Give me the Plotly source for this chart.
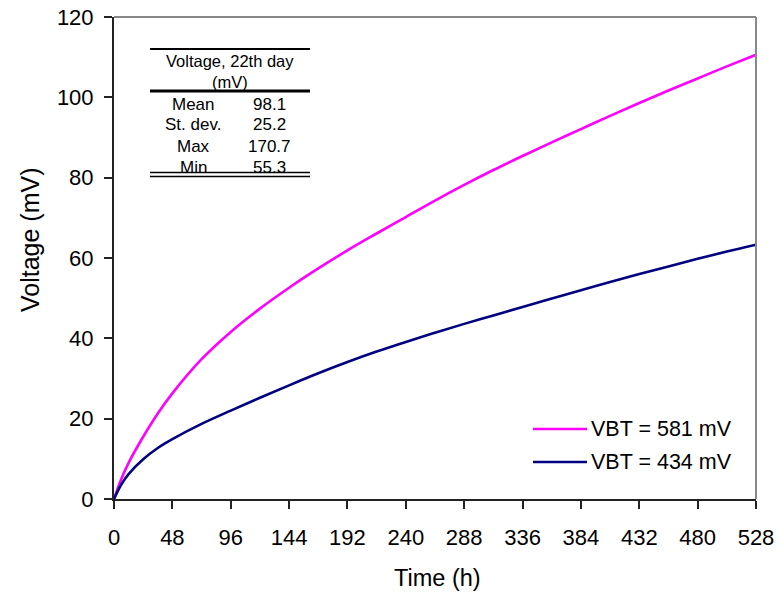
import plotly.graph_objects as go

# ---------------- data ----------------
time_h = [0, 6, 12, 24, 36, 48, 72, 96, 120, 144, 168, 192, 216, 240, 264,
          288, 312, 336, 360, 384, 408, 432, 456, 480, 504, 528]
v_581 = [0, 5.0, 9.0, 15.5, 21.3, 26.3, 34.8, 41.6, 47.4, 52.6, 57.4, 61.9,
         66.1, 70.2, 74.3, 78.2, 81.9, 85.4, 88.8, 92.1, 95.4, 98.6, 101.7,
         104.7, 107.7, 110.6]
v_434 = [0, 3.6, 6.2, 9.9, 12.7, 14.9, 18.7, 22.0, 25.2, 28.3, 31.3, 34.1,
         36.7, 39.1, 41.4, 43.6, 45.7, 47.8, 49.9, 52.0, 54.0, 56.0, 57.9,
         59.8, 61.6, 63.3]
series_names = ["VBT = 581 mV", "VBT = 434 mV"]
series_colors = ["#FF00FF", "#000080"]
x_ticks = list(range(0, 529, 48))
y_ticks = list(range(0, 121, 20))
table_header = ["Voltage, 22th day", "(mV)"]
table_labels = ["Mean", "St. dev.", "Max", "Min"]
table_values = ["98.1", "25.2", "170.7", "55.3"]

# ---------------- layout geometry (pixels) ----------------
W, H = 780, 597
L, R, T, B = 114, 24, 17, 98
PW, PH = W - L - R, H - T - B


def px(x):
    return (x - L) / PW


def py(y):
    return (H - B - y) / PH


FONT = "Liberation Sans, Arial, sans-serif"

fig = go.Figure()
for name, yv, col in zip(series_names, [v_581, v_434], series_colors):
    fig.add_trace(go.Scatter(x=time_h, y=yv, mode="lines", name=name,
                             line=dict(color=col, width=2.6, shape="spline"),
                             showlegend=False))

shapes = []
annotations = []

# frame top / right (grey)
shapes.append(dict(type="line", xref="paper", yref="paper", x0=0, x1=1, y0=1, y1=1,
                   line=dict(color="#888888", width=2)))
shapes.append(dict(type="line", xref="paper", yref="paper", x0=1, x1=1, y0=0, y1=1,
                   line=dict(color="#888888", width=2)))

# table lines
for yy, w in [(49, 2), (91, 2.8), (172.5, 1.6), (176.5, 1.6)]:
    shapes.append(dict(type="line", xref="paper", yref="paper", x0=px(150), x1=px(310),
                       y0=py(yy), y1=py(yy), line=dict(color="black", width=w)))

annotations.append(dict(text="<br>".join(table_header), x=px(230), y=py(71),
                        xref="paper", yref="paper", showarrow=False,
                        xanchor="center", yanchor="middle", align="center",
                        font=dict(family=FONT, size=16.5, color="black")))
for lab, val, yy in zip(table_labels, table_values, [104, 125, 146, 167]):
    annotations.append(dict(text=lab, x=px(193), y=py(yy), xref="paper", yref="paper",
                            showarrow=False, xanchor="center", yanchor="middle",
                            font=dict(family=FONT, size=17, color="black")))
    annotations.append(dict(text=val, x=px(269), y=py(yy), xref="paper", yref="paper",
                            showarrow=False, xanchor="center", yanchor="middle",
                            font=dict(family=FONT, size=17, color="black")))

# custom legend
for name, col, yy in zip(series_names, series_colors, [429, 462]):
    shapes.append(dict(type="line", xref="paper", yref="paper", x0=px(533), x1=px(587),
                       y0=py(yy), y1=py(yy), line=dict(color=col, width=2.6)))
    annotations.append(dict(text=name, x=px(589), y=py(yy), xref="paper", yref="paper",
                            showarrow=False, xanchor="left", yanchor="middle",
                            font=dict(family=FONT, size=21.5, color="black")))

# axis titles
annotations.append(dict(text="Time (h)", x=px(437), y=py(578), xref="paper", yref="paper",
                        showarrow=False, xanchor="center", yanchor="middle",
                        font=dict(family=FONT, size=23.5, color="black")))
annotations.append(dict(text="Voltage (mV)", x=px(30), y=py(240), xref="paper", yref="paper",
                        showarrow=False, xanchor="center", yanchor="middle", textangle=-90,
                        font=dict(family=FONT, size=25, color="black")))

fig.update_layout(
    width=W, height=H,
    margin=dict(l=L, r=R, t=T, b=B),
    paper_bgcolor="white", plot_bgcolor="white",
    shapes=shapes, annotations=annotations,
    xaxis=dict(range=[0, 528], tickvals=x_ticks, ticktext=[str(v) for v in x_ticks],
               showgrid=False, zeroline=False, showline=True, linecolor="#222222",
               linewidth=2, ticks="outside", ticklen=8, tickwidth=1.5, tickcolor="#222222",
               automargin=False,
               tickfont=dict(family=FONT, size=22, color="black"), ticklabelstandoff=10),
    yaxis=dict(range=[0, 120], tickvals=y_ticks, ticktext=[str(v) for v in y_ticks],
               showgrid=False, zeroline=False, showline=True, linecolor="#222222",
               linewidth=2, ticks="outside", ticklen=8, tickwidth=1.5, tickcolor="#222222",
               automargin=False,
               tickfont=dict(family=FONT, size=22, color="black"), ticklabelstandoff=6),
)

fig.write_html("out.html", config={"displayModeBar": False},
               post_script="document.body.style.margin='0px';document.body.style.overflow='hidden';")
